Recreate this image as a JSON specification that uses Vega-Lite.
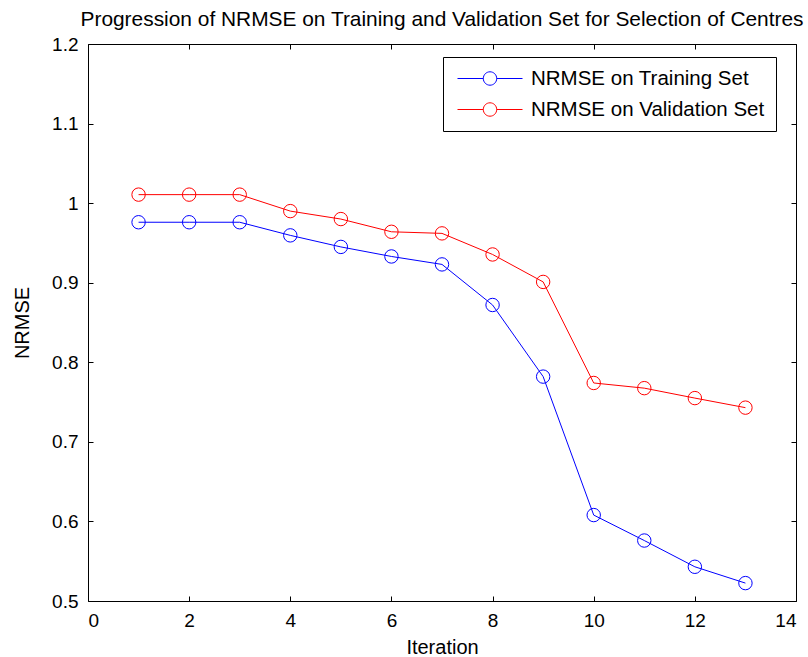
{
  "$schema": "https://vega.github.io/schema/vega-lite/v6.json",
  "width": 708,
  "height": 557,
  "autosize": "none",
  "padding": {"left": 88, "top": 44, "right": 12, "bottom": 56},
  "background": "white",
  "config": {
    "view": {"stroke": "black", "strokeWidth": 1},
    "font": "Liberation Sans",
    "axis": {
      "domain": false,
      "grid": false,
      "tickColor": "black",
      "tickSize": -5,
      "tickWidth": 1,
      "labelColor": "black",
      "labelFontSize": 19,
      "titleFontSize": 20,
      "titleFontWeight": "normal",
      "titleColor": "black"
    }
  },
  "title": {
    "text": "Progression of NRMSE on Training and Validation Set for Selection of Centres",
    "fontSize": 20.9,
    "fontWeight": "normal",
    "color": "black",
    "anchor": "middle",
    "offset": 5
  },
  "data": {
    "values": [
      {"iteration": 1, "nrmse": 0.976, "series": "NRMSE on Training Set"},
      {"iteration": 2, "nrmse": 0.976, "series": "NRMSE on Training Set"},
      {"iteration": 3, "nrmse": 0.976, "series": "NRMSE on Training Set"},
      {"iteration": 4, "nrmse": 0.9595, "series": "NRMSE on Training Set"},
      {"iteration": 5, "nrmse": 0.945, "series": "NRMSE on Training Set"},
      {"iteration": 6, "nrmse": 0.933, "series": "NRMSE on Training Set"},
      {"iteration": 7, "nrmse": 0.923, "series": "NRMSE on Training Set"},
      {"iteration": 8, "nrmse": 0.872, "series": "NRMSE on Training Set"},
      {"iteration": 9, "nrmse": 0.782, "series": "NRMSE on Training Set"},
      {"iteration": 10, "nrmse": 0.608, "series": "NRMSE on Training Set"},
      {"iteration": 11, "nrmse": 0.576, "series": "NRMSE on Training Set"},
      {"iteration": 12, "nrmse": 0.543, "series": "NRMSE on Training Set"},
      {"iteration": 13, "nrmse": 0.5225, "series": "NRMSE on Training Set"},
      {"iteration": 1, "nrmse": 1.0107, "series": "NRMSE on Validation Set"},
      {"iteration": 2, "nrmse": 1.0107, "series": "NRMSE on Validation Set"},
      {"iteration": 3, "nrmse": 1.0107, "series": "NRMSE on Validation Set"},
      {"iteration": 4, "nrmse": 0.990, "series": "NRMSE on Validation Set"},
      {"iteration": 5, "nrmse": 0.980, "series": "NRMSE on Validation Set"},
      {"iteration": 6, "nrmse": 0.964, "series": "NRMSE on Validation Set"},
      {"iteration": 7, "nrmse": 0.962, "series": "NRMSE on Validation Set"},
      {"iteration": 8, "nrmse": 0.9355, "series": "NRMSE on Validation Set"},
      {"iteration": 9, "nrmse": 0.901, "series": "NRMSE on Validation Set"},
      {"iteration": 10, "nrmse": 0.774, "series": "NRMSE on Validation Set"},
      {"iteration": 11, "nrmse": 0.7675, "series": "NRMSE on Validation Set"},
      {"iteration": 12, "nrmse": 0.755, "series": "NRMSE on Validation Set"},
      {"iteration": 13, "nrmse": 0.743, "series": "NRMSE on Validation Set"}
    ]
  },
  "resolve": {"axis": {"x": "independent", "y": "independent"}},
  "layer": [
    {
      "mark": {"type": "line", "strokeWidth": 1},
      "encoding": {
        "x": {
          "field": "iteration", "type": "quantitative",
          "scale": {"domain": [0, 14], "nice": false, "zero": false},
          "axis": {"orient": "bottom", "values": [0, 2, 4, 6, 8, 10, 12, 14], "title": "Iteration", "labelPadding": 15, "titlePadding": 7}
        },
        "y": {
          "field": "nrmse", "type": "quantitative",
          "scale": {"domain": [0.5, 1.2], "nice": false, "zero": false},
          "axis": {"orient": "left", "values": [0.5, 0.6, 0.7, 0.8, 0.9, 1.0, 1.1, 1.2], "format": ".2~f", "title": "NRMSE", "labelPadding": 15, "titlePadding": 19}
        },
        "color": {
          "field": "series", "type": "nominal",
          "scale": {"domain": ["NRMSE on Training Set", "NRMSE on Validation Set"], "range": ["#0000ff", "#ff0000"]},
          "legend": {
            "orient": "none", "legendX": 355, "legendY": 13, "title": null,
            "strokeColor": "black", "fillColor": "white",
            "padding": 11, "labelFontSize": 20.5, "labelColor": "black", "labelLimit": 400,
            "symbolType": "M-3.25,0H-0.67M0.67,0H3.25M0.67,0A0.67,0.67 0 1,1 -0.67,0A0.67,0.67 0 1,1 0.67,0",
            "symbolSize": 400, "symbolStrokeWidth": 1, "symbolFillColor": "transparent",
            "symbolOffset": 25.5,
            "rowPadding": 10, "labelOffset": 30.5
          }
        }
      }
    },
    {
      "mark": {"type": "point", "shape": "circle", "filled": false, "size": 180, "strokeWidth": 1, "opacity": 1},
      "encoding": {
        "x": {
          "field": "iteration", "type": "quantitative",
          "axis": {"orient": "top", "values": [0, 2, 4, 6, 8, 10, 12, 14], "labels": false, "title": null}
        },
        "y": {
          "field": "nrmse", "type": "quantitative",
          "axis": {"orient": "right", "values": [0.5, 0.6, 0.7, 0.8, 0.9, 1.0, 1.1, 1.2], "labels": false, "title": null}
        },
        "color": {"field": "series", "type": "nominal"}
      }
    }
  ]
}
